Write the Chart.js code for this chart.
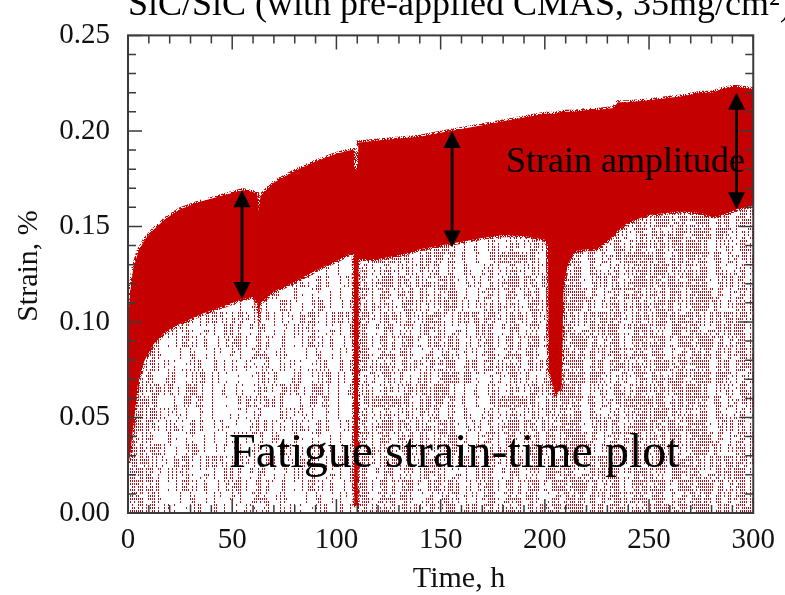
<!DOCTYPE html>
<html><head><meta charset="utf-8">
<script src="https://cdn.jsdelivr.net/npm/chart.js@4"></script>
<style>html,body{margin:0;padding:0;background:#fff}#wrap{width:785px;height:595px;position:relative}</style>
</head><body><div id="wrap"><canvas id="c" width="785" height="595"></canvas></div>
<script>
// ---------- data ----------
const timeH = [0,1,2.5,5,8,12,18,25,35,45,55,60,62,62.8,63.6,70,80,90,100,107,108.3,108.6,110.2,110.6,120,130,140,150,160,170,180,190,200,201.5,202,205,208,209,211,214,220,225,233,235,240,250,265,275,280,285,290,292,300];
const strainMax = [0.100,0.115,0.128,0.137,0.143,0.148,0.154,0.159,0.163,0.166,0.169,0.168,0.167,0.158,0.166,0.173,0.179,0.184,0.188,0.190,0.190,0.180,0.180,0.194,0.195,0.196,0.197,0.199,0.201,0.203,0.205,0.207,0.209,0.209,0.209,0.209,0.210,0.210,0.210,0.210,0.211,0.211,0.212,0.215,0.215,0.216,0.218,0.220,0.220,0.222,0.223,0.223,0.222];
const strainMin = [0.025,0.030,0.045,0.070,0.080,0.088,0.095,0.099,0.104,0.108,0.112,0.113,0.110,0.104,0.110,0.116,0.121,0.127,0.132,0.136,0.136,0.004,0.004,0.133,0.133,0.135,0.138,0.140,0.142,0.144,0.1455,0.145,0.143,0.140,0.075,0.062,0.065,0.120,0.130,0.137,0.138,0.138,0.145,0.148,0.152,0.156,0.158,0.157,0.155,0.156,0.158,0.159,0.161];
const xTickValues = [0,50,100,150,200,250,300];
const yTickValues = [0,0.05,0.10,0.15,0.20,0.25];
const arrowTime = [54.7,155.5,292];
const arrowLow = [0.112,0.139,0.159];
const arrowHigh = [0.169,0.200,0.220];
const titleText = 'SiC/SiC (with pre-applied CMAS, 35mg/cm\u00B2)';
const xAxisTitle = 'Time, h';
const yAxisTitle = 'Strain, %';
const amplitudeLabel = 'Strain amplitude';
const plotLabel = 'Fatigue strain-time plot';

// ---------- style ----------
const SERIF = '"Liberation Serif","Times New Roman",serif';
const BAND = '#c40000';
const scatterStyle = [ // [fromTime, toTime, texture density]
  [0,12,0.7],[12,108.3,0.32],[108.3,201.5,0.5],[201.5,300,0.66]
];
function hash(a,b){
  let n = Math.imul(a|0,374761393) + Math.imul(b|0,668265263) | 0;
  n = Math.imul(n ^ (n>>>13),1274126177);
  n = n ^ (n>>>16);
  return (n>>>0)/4294967296;
}
function makePattern(density){
  const w=126,h=144;
  const cv=document.createElement('canvas'); cv.width=w; cv.height=h;
  const g=cv.getContext('2d');
  for(let cx=0;cx<w;cx+=2){
    const cd = density*(0.25+1.5*hash(cx,911));
    for(let seg=0;seg<h;seg+=12){
      const on = hash(cx+17,seg+3) < cd*1.1;
      for(let ry=seg;ry<seg+12;ry+=3){
        const p = on ? 0.85 : 0.12*density;
        if(hash(cx,ry)<p){
          g.fillStyle = hash(ry+3,cx+5)<0.35 ? '#d41414' : '#9a1424';
          g.fillRect(cx,ry,1,2);
        }
      }
    }
  }
  return g.createPattern(cv,'repeat');
}
function makeFuzz(){
  const cv=document.createElement('canvas'); cv.width=24; cv.height=24;
  const g=cv.getContext('2d');
  for(let x=0;x<24;x++) for(let y=0;y<24;y++){
    if(hash(x+101,y+57)<0.45){ g.fillStyle='#c40000'; g.fillRect(x,y,1,1); }
  }
  return g.createPattern(cv,'repeat');
}
const fuzz = makeFuzz();

const bandLow = timeH.map((t,i)=>({x:t,y:strainMin[i]}));
const bandHigh = timeH.map((t,i)=>({x:t,y:strainMax[i]}));

const datasets = [
  {label:'min',data:bandLow,borderWidth:4,pointRadius:0,fill:false,order:2,borderColor:fuzz},
  {label:'max',data:bandHigh,borderWidth:4,pointRadius:0,fill:{target:0},backgroundColor:BAND,borderColor:fuzz,order:1}
];
scatterStyle.forEach(([a,b,d])=>{
  datasets.push({label:'below',data:bandLow.filter(p=>p.x>=a&&p.x<=b),borderWidth:0,pointRadius:0,
    fill:'origin',backgroundColor:makePattern(d),borderColor:'rgba(0,0,0,0)',order:10});
});

const decor = {
  id:'decor',
  afterDraw(chart){
    const g=chart.ctx, xs=chart.scales.x, ys=chart.scales.y, ca=chart.chartArea;
    g.save();
    // frame
    g.strokeStyle='#3a3a3a'; g.lineWidth=2;
    g.strokeRect(ca.left,ca.top,ca.right-ca.left,ca.bottom-ca.top);
    // inside ticks on all four sides
    g.lineWidth=1.5;
    for(let v=0;v<=300;v+=10){
      const px=xs.getPixelForValue(v), L=(v%50===0)?14:8;
      g.beginPath(); g.moveTo(px,ca.bottom); g.lineTo(px,ca.bottom-L);
      g.moveTo(px,ca.top); g.lineTo(px,ca.top+L); g.stroke();
    }
    for(let k=0;k<=25;k++){
      const py=ys.getPixelForValue(k/100), L=(k%5===0)?14:8;
      g.beginPath(); g.moveTo(ca.left,py); g.lineTo(ca.left+L,py);
      g.moveTo(ca.right,py); g.lineTo(ca.right-L,py); g.stroke();
    }
    // arrows
    g.strokeStyle='#000'; g.fillStyle='#000'; g.lineWidth=2.8;
    arrowTime.forEach((t,i)=>{
      const px=xs.getPixelForValue(t), y1=ys.getPixelForValue(arrowHigh[i]), y2=ys.getPixelForValue(arrowLow[i]);
      const hh=17, hw=8.5;
      g.beginPath(); g.moveTo(px,y1+hh-2); g.lineTo(px,y2-hh+2); g.stroke();
      g.beginPath(); g.moveTo(px,y1); g.lineTo(px-hw,y1+hh); g.lineTo(px+hw,y1+hh); g.closePath(); g.fill();
      g.beginPath(); g.moveTo(px,y2); g.lineTo(px-hw,y2-hh); g.lineTo(px+hw,y2-hh); g.closePath(); g.fill();
    });
    // labels
    g.fillStyle='#000'; g.textBaseline='alphabetic'; g.textAlign='left';
    g.font='36px '+SERIF; g.fillText(amplitudeLabel,506,172);
    g.font='48px '+SERIF; g.fillText(plotLabel,229,467);
    g.font='36px '+SERIF; g.fillText(titleText,128,15);
    g.font='30px '+SERIF; g.textAlign='center'; g.fillStyle='#111';
    g.fillText(xAxisTitle,459,587);
    g.translate(37,266); g.rotate(-Math.PI/2); g.fillText(yAxisTitle,0,0);
    g.restore();
  }
};

new Chart(document.getElementById('c'),{
  type:'line',
  data:{datasets},
  options:{
    responsive:false, animation:false, devicePixelRatio:1,
    layout:{padding:{top:32,right:26,left:0,bottom:0}},
    plugins:{legend:{display:false},tooltip:{enabled:false},title:{display:false}},
    elements:{line:{tension:0}},
    scales:{
      x:{type:'linear',min:0,max:300,
        afterBuildTicks(s){s.ticks=xTickValues.map(v=>({value:v}));},
        afterFit(s){s.height=82;},
        grid:{display:false,drawTicks:false},border:{display:false},
        ticks:{font:{family:SERIF,size:29},color:'#111',padding:10,maxRotation:0,autoSkip:false}},
      y:{type:'linear',min:0,max:0.25,
        afterBuildTicks(s){s.ticks=yTickValues.map(v=>({value:v}));},
        afterFit(s){s.width=128;},
        grid:{display:false,drawTicks:false},border:{display:false},
        ticks:{font:{family:SERIF,size:29},color:'#111',padding:18,autoSkip:false,callback:v=>Number(v).toFixed(2)}}
    }
  },
  plugins:[decor]
});
</script></body></html>
